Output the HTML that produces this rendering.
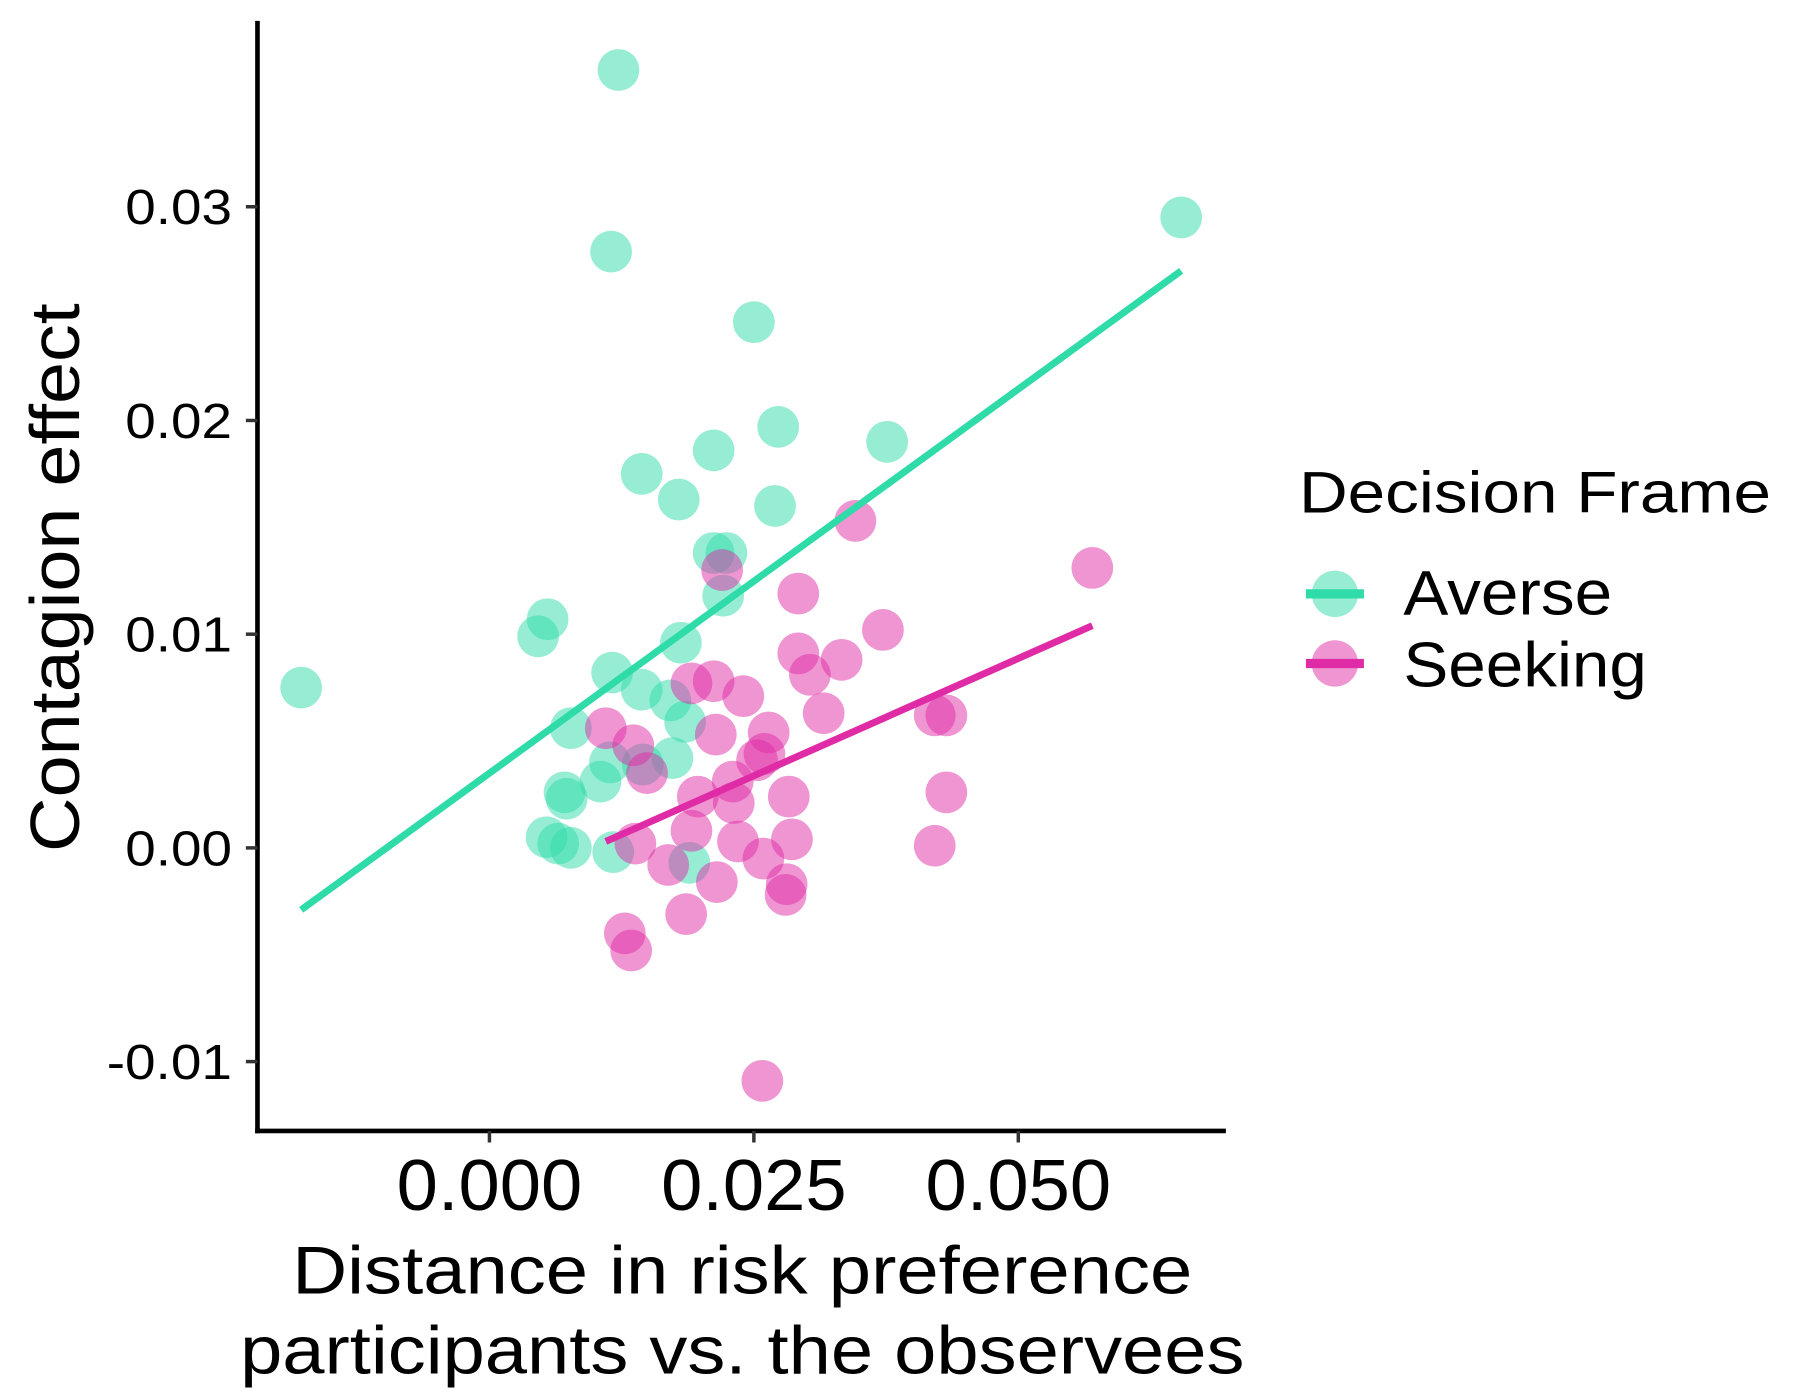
<!DOCTYPE html>
<html><head><meta charset="utf-8"><style>
html,body{margin:0;padding:0;background:#fff;}
svg{display:block;font-family:"Liberation Sans",Arial,sans-serif;}
</style></head><body>
<svg id="chart" width="1800" height="1400" viewBox="0 0 1552 1207" preserveAspectRatio="none" xmlns="http://www.w3.org/2000/svg">
<g id="marks"></g>
<g id="axes"></g>
<text transform="translate(68,498) rotate(-90)" text-anchor="middle" font-size="60" textLength="473" lengthAdjust="spacingAndGlyphs" fill="#000">Contagion effect</text>
<text x="640" y="1115" text-anchor="middle" font-size="58" textLength="776" lengthAdjust="spacingAndGlyphs" fill="#000">Distance in risk preference</text>
<text x="640" y="1184" text-anchor="middle" font-size="58" textLength="866" lengthAdjust="spacingAndGlyphs" fill="#000">participants vs. the observees</text>
<g>
<text x="1120" y="442" font-size="50" textLength="407" lengthAdjust="spacingAndGlyphs" fill="#000">Decision Frame</text>
<g>
<circle cx="1151" cy="512" r="20" fill="#2edba9" fill-opacity="0.5"/>
<line x1="1126" y1="512" x2="1176" y2="512" stroke="#2edba9" stroke-width="8"/>
<text x="1210" y="530" font-size="54" textLength="180" lengthAdjust="spacingAndGlyphs" fill="#000">Averse</text></g>
<g>
<circle cx="1151" cy="572" r="20" fill="#e02ba6" fill-opacity="0.5"/>
<line x1="1126" y1="572" x2="1176" y2="572" stroke="#e02ba6" stroke-width="8"/>
<text x="1210" y="592" font-size="54" textLength="210" lengthAdjust="spacingAndGlyphs" fill="#000">Seeking</text></g>
</g>
</svg>
<script>
const averseX=[0.0122,0.0654,0.0115,0.025,0.0273,0.0376,0.0212,0.0144,0.0179,0.0270,0.0212,0.0224,0.0221,0.0055,0.0046,-0.0178,0.0181,0.0116,0.0144,0.0171,0.0185,0.0077,0.0114,0.0105,0.0145,0.0173,0.0071,0.0073,0.0054,0.0065,0.0077,0.0117,0.0189];
const averseY=[0.0364,0.0295,0.0279,0.0246,0.0197,0.0190,0.0186,0.0175,0.0163,0.0160,0.0138,0.0138,0.0118,0.0107,0.0099,0.0075,0.0096,0.0082,0.0074,0.0069,0.0059,0.0056,0.0040,0.0031,0.0039,0.0042,0.0026,0.0023,0.0005,0.0002,0.0000,-0.0002,-0.0007];
const seekingX=[0.0258,0.0570,0.0346,0.0220,0.0292,0.0372,0.0292,0.0333,0.0303,0.0191,0.0212,0.0240,0.0316,0.0110,0.0136,0.0214,0.0264,0.0421,0.0432,0.0149,0.0253,0.0260,0.0230,0.0197,0.0283,0.0432,0.0231,0.0138,0.0191,0.0235,0.0286,0.0259,0.0169,0.0215,0.0281,0.0280,0.0421,0.0186,0.0128,0.0134];
const seekingY=[-0.0109,0.0131,0.0153,0.0130,0.0119,0.0102,0.0091,0.0088,0.0081,0.0077,0.0078,0.0071,0.0063,0.0056,0.0048,0.0053,0.0054,0.0062,0.0062,0.0035,0.0041,0.0044,0.0031,0.0024,0.0024,0.0026,0.0021,0.0002,0.0008,0.0003,0.0004,-0.0005,-0.0008,-0.0016,-0.0017,-0.0022,0.0001,-0.0031,-0.0040,-0.0048];
const averseFitX=[-0.0178,0.0654];
const averseFitY=[-0.0029,0.0270];
const seekingFitX=[0.011,0.057];
const seekingFitY=[0.0003,0.0104];
const xTicks=[0,0.025,0.05];
const xTickLabels=["0.000","0.025","0.050"];
const yTicks=[-0.01,0,0.01,0.02,0.03];
const yTickLabels=["-0.01","0.00","0.01","0.02","0.03"];

const NS="http://www.w3.org/2000/svg";
function sx(v){return 422+v*9120;}
function sy(v){return 731-v*18425;}
const marks=document.getElementById('marks');
const axes=document.getElementById('axes');
function mk(tag,attrs,parent){const e=document.createElementNS(NS,tag);for(const k in attrs)e.setAttribute(k,attrs[k]);parent.appendChild(e);return e;}
function drawPts(xs,ys,col,name){
  for(let i=0;i<xs.length;i++){
    const c=mk('circle',{cx:sx(xs[i]),cy:sy(ys[i]),r:18,fill:col,'fill-opacity':0.5},marks);
    
    
  }
}
drawPts(averseX,averseY,'#2edba9','averse');
drawPts(seekingX,seekingY,'#e02ba6','seeking');
const l1=mk('line',{x1:sx(averseFitX[0]),y1:sy(averseFitY[0]),x2:sx(averseFitX[1]),y2:sy(averseFitY[1]),stroke:'#2edba9','stroke-width':6},marks);


const l2=mk('line',{x1:sx(seekingFitX[0]),y1:sy(seekingFitY[0]),x2:sx(seekingFitX[1]),y2:sy(seekingFitY[1]),stroke:'#e02ba6','stroke-width':6},marks);



const ya=mk('line',{x1:222,y1:18,x2:222,y2:977,stroke:'#000','stroke-width':4},axes);


const xa=mk('line',{x1:220,y1:975,x2:1057,y2:975,stroke:'#000','stroke-width':4},axes);


xTicks.forEach((v,i)=>{
  const t=mk('line',{x1:sx(v),y1:975,x2:sx(v),y2:985,stroke:'#333','stroke-width':3},axes);
  
  
  const l=mk('text',{x:sx(v),y:1043,'text-anchor':'middle','font-size':62,textLength:160,lengthAdjust:'spacingAndGlyphs',fill:'#000'},axes);
  l.textContent=xTickLabels[i];
  
  
});
yTicks.forEach((v,i)=>{
  const lbl=yTickLabels[i];
  const t=mk('line',{x1:212,y1:sy(v),x2:222,y2:sy(v),stroke:'#333','stroke-width':3},axes);
  
  
  const l=mk('text',{x:200,y:sy(v)+15,'text-anchor':'end','font-size':42,textLength:lbl.length>4?108:92,lengthAdjust:'spacingAndGlyphs',fill:'#000'},axes);
  l.textContent=lbl;
  
  
});
</script>
</body></html>
